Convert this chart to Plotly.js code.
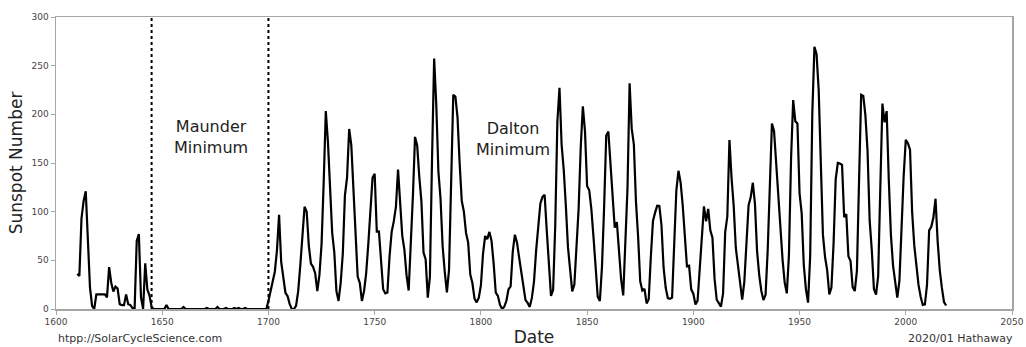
<!DOCTYPE html>
<html>
<head>
<meta charset="utf-8">
<script src="https://cdn.plot.ly/plotly-3.0.1.min.js"></script>
<style>
  html, body { margin: 0; padding: 0; background: #ffffff; }
  #chart { width: 1026px; height: 347px; }
</style>
</head>
<body>
<div id="chart"></div>
<script>
// ---- Data ----
// Early telescopic era, yearly values 1610..1645
const earlyStartYear = 1610;
const earlySSN = [36,34,93,111,121,70,22,3,0,15,
                  15,15,15,15,12,43,27,18,23,21,
                  5,4,4,15,5,4,1,0,70,77,
                  12,0,47,20,14,2];

// Maunder Minimum era, yearly values 1646..1699
const maunderStartYear = 1646;
const maunderSSN = [0,0,0,0,0,0,4,0,0,0,
                    0,0,0,0,2,0,0,0,0,0,
                    0,0,0,0,0,1,0,0,0,0,
                    2,0,0,0,1,0,0,0,1,0,
                    1,0,0,1,0,0,0,0,0,0,
                    0,0,0,0];

// Yearly values 1700..2019
const modernStartYear = 1700;
const modernSSN = [
  8.3,18.3,26.7,38.3,60.0,96.7,48.3,33.3,16.7,13.3,
  5.0,0.0,0.0,3.3,18.3,45.0,78.3,105.0,100.0,65.0,
  46.7,43.3,36.7,18.3,35.0,66.7,130.0,203.3,171.7,121.7,
  78.3,58.3,18.3,8.3,26.7,56.7,116.7,135.0,185.0,168.3,
  121.7,66.7,33.3,26.7,8.3,18.3,36.7,66.7,100.0,134.8,
  139.0,79.5,79.7,51.2,20.3,16.0,17.0,54.0,79.3,90.0,
  104.8,143.2,102.0,75.2,60.7,34.8,19.0,63.0,116.3,176.8,
  168.0,136.0,110.8,58.0,51.0,11.7,33.0,154.2,257.3,209.8,
  141.3,113.5,64.2,38.0,17.0,40.2,138.2,220.0,218.2,196.8,
  149.8,111.0,100.0,78.2,68.3,35.5,26.7,10.7,6.8,11.3,
  24.2,56.7,75.0,71.8,79.2,70.3,46.8,16.8,13.5,4.2,
  0.0,2.3,8.3,20.3,23.2,59.0,76.3,68.3,52.9,38.5,
  24.2,9.2,6.3,2.2,11.4,28.2,59.9,83.0,108.5,115.2,
  117.4,80.8,44.3,13.4,19.5,85.8,192.7,227.3,168.7,143.0,
  105.5,63.3,40.3,18.1,25.1,65.8,102.7,166.3,208.3,182.5,
  126.3,122.0,102.7,74.1,39.0,12.7,8.2,43.4,104.4,178.3,
  182.2,146.6,112.1,83.5,89.2,57.8,30.7,13.9,62.8,123.6,
  232.0,185.3,169.2,110.1,74.5,28.3,18.9,20.7,5.7,10.0,
  53.7,90.5,99.0,106.1,105.8,86.3,42.4,21.8,11.2,10.4,
  11.8,59.5,121.7,142.0,130.0,106.6,69.4,43.8,44.4,20.2,
  15.7,4.6,8.5,40.8,70.1,105.5,90.1,102.8,80.9,73.2,
  30.9,9.5,6.0,2.4,16.1,79.0,95.0,173.6,134.6,105.7,
  62.7,43.5,23.7,9.7,27.9,74.0,106.5,114.7,129.7,108.2,
  59.4,35.1,18.6,9.2,14.6,60.2,132.8,190.6,182.6,148.0,
  113.0,79.2,50.8,27.1,16.1,55.3,154.3,214.7,193.0,190.7,
  118.9,98.3,45.0,20.1,6.6,54.2,200.7,269.3,261.7,225.1,
  159.0,76.4,53.4,39.9,15.0,22.0,66.8,132.9,150.0,149.4,
  148.0,94.4,97.6,54.1,49.2,22.5,18.4,39.3,131.0,220.1,
  218.9,198.9,162.4,91.0,60.5,20.6,14.8,33.9,123.0,211.1,
  191.8,203.3,133.0,76.1,44.9,25.1,11.6,28.9,88.3,136.3,
  173.9,170.4,163.6,99.3,65.3,45.8,24.7,12.6,4.2,4.8,
  24.9,80.8,84.5,94.0,113.3,69.8,39.8,21.7,7.0,3.6
];

// Maunder Minimum boundaries (dotted lines)
const minimumBounds = [1645, 1700];

// Axis ticks
const xTicks = [1600,1650,1700,1750,1800,1850,1900,1950,2000,2050];
const yTicks = [0,50,100,150,200,250,300];

// Text labels
const labelNames = ["Maunder<br>Minimum", "Dalton<br>Minimum"];
const labelYears = [1673, 1815];
const labelValues = [177, 175];

// ---- Build series ----
function yearsFor(start, arr) { return arr.map((_, i) => start + i); }
const years = [].concat(
  yearsFor(earlyStartYear, earlySSN),
  yearsFor(maunderStartYear, maunderSSN),
  yearsFor(modernStartYear, modernSSN)
);
const ssn = [].concat(earlySSN, maunderSSN, modernSSN);

const font = "DejaVu Sans, Liberation Sans, sans-serif";
const axisGrey = "#a6a6a6";
const tickText = "#444444";

const trace = {
  x: years, y: ssn, type: "scatter", mode: "lines",
  line: { color: "#000000", width: 2.2 },
  hoverinfo: "skip", showlegend: false
};

const shapes = minimumBounds.map(v => ({
  type: "line", xref: "x", yref: "y",
  x0: v, x1: v, y0: 0, y1: 300,
  line: { color: "#000000", width: 2, dash: "dot" }
}));

const annotations = labelNames.map((t, i) => ({
  text: t, x: labelYears[i], y: labelValues[i], xref: "x", yref: "y",
  showarrow: false, xanchor: "center", yanchor: "middle",
  font: { family: font, size: 16, color: "#222222" }
}));
annotations.push({
  text: "htpp://SolarCycleScience.com", xref: "paper", yref: "paper",
  x: 0, y: -0.10, xanchor: "left", yanchor: "middle", showarrow: false,
  font: { family: font, size: 11, color: "#333333" }
});
annotations.push({
  text: "2020/01 Hathaway", xref: "paper", yref: "paper",
  x: 1.003, y: -0.10, xanchor: "right", yanchor: "middle", showarrow: false,
  font: { family: font, size: 11, color: "#333333" }
});

const layout = {
  width: 1026, height: 347,
  margin: { l: 56, r: 14, t: 17, b: 37.5, pad: 0 },
  paper_bgcolor: "#ffffff", plot_bgcolor: "#ffffff",
  font: { family: font },
  showlegend: false,
  xaxis: {
    range: [1600, 2050], tickmode: "array", tickvals: xTicks,
    ticktext: xTicks.map(String),
    showgrid: false, zeroline: false,
    showline: true, mirror: true, linecolor: axisGrey, linewidth: 1.5,
    ticks: "outside", ticklen: 4, tickcolor: axisGrey, tickwidth: 1,
    tickfont: { family: font, size: 9, color: tickText },
    title: { text: "Date", font: { family: font, size: 17, color: "#222222" }, standoff: 8 },
    automargin: false
  },
  yaxis: {
    range: [0, 300], tickmode: "array", tickvals: yTicks,
    ticktext: yTicks.map(String),
    showgrid: false, zeroline: false,
    showline: true, mirror: true, linecolor: axisGrey, linewidth: 1.5,
    ticks: "outside", ticklen: 4, tickcolor: axisGrey, tickwidth: 1,
    tickfont: { family: font, size: 9, color: tickText },
    title: { text: "Sunspot Number", font: { family: font, size: 17, color: "#222222" }, standoff: 4 },
    automargin: false
  },
  shapes: shapes,
  annotations: annotations
};

Plotly.newPlot("chart", [trace], layout, { staticPlot: true, displayModeBar: false });
</script>
</body>
</html>
